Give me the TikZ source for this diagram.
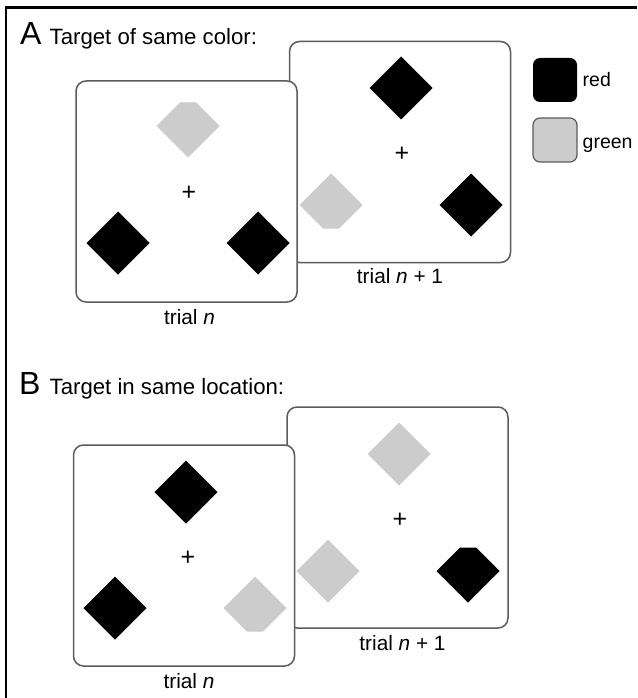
\documentclass[tikz,border=0pt]{standalone}
\usepackage{fontspec}
\setmainfont{Liberation Sans}
\definecolor{tgray}{HTML}{CCCCCC}
\definecolor{bgray}{HTML}{5C5C5C}
\begin{document}
\begin{tikzpicture}[x=1pt,y=-1pt,
  trialbox/.style={draw=bgray, line width=1.5pt, fill=white, rounded corners=10pt,
    minimum width=221pt, minimum height=221pt, inner sep=0pt},
  triallabel/.style={font=\fontsize{20.8}{24}\selectfont, inner sep=0pt, anchor=north},
  fixcross/.style={font=\fontsize{25}{28}\selectfont, inner sep=0pt},
  headletter/.style={font=\fontsize{32}{35}\selectfont, inner sep=0pt, anchor=base west},
  headtext/.style={font=\fontsize{22.2}{26}\selectfont, inner sep=0pt, anchor=base west},
  legsq/.style={minimum width=44pt, minimum height=44pt, inner sep=0pt, rounded corners=7pt},
  legtext/.style={font=\fontsize{19.5}{23}\selectfont, inner sep=0pt, anchor=base west},
  frameline/.style={line width=2.7pt, black},
  dfull/.pic={\fill (0,-31.5) -- (31.5,0) -- (0,31.5) -- (-31.5,0) -- cycle;},
  dcuttop/.pic={\fill (-8,-23.5) -- (8,-23.5) -- (31.5,0) -- (0,31.5) -- (-31.5,0) -- cycle;},
  dcutbot/.pic={\fill (-31.5,0) -- (0,-31.5) -- (31.5,0) -- (8,23.5) -- (-8,23.5) -- cycle;}
]
\useasboundingbox (0,0) rectangle (637,698);
\fill[white] (0,0) rectangle (637,698);

% outer frame (top and left only)
\coordinate (ftl) at (6,7.5);
\coordinate (ftr) at (637,7.5);
\coordinate (fbl) at (6,698);
\draw[frameline] (fbl) -- (ftl) -- (ftr);

% ---------- Panel A ----------
\node[headletter] (hA) at (20,44.5) {A};
\node[headtext] (tA) at (49.5,44.5) {Target of same color:};

% trial n+1 (behind)
\node[trialbox] (A1) at (400,152) {};
\pic[color=black] at (401,88) {dfull};
\pic[color=tgray] at (331,205) {dcutbot};
\pic[color=black] at (471,205) {dfull};
\node[fixcross] (xA1) at (402,154) {+};
\node[triallabel] (lA1) at ([yshift=-5pt]A1.south) {trial \textit{n} + 1};

% trial n (front)
\node[trialbox] (A0) at (186.5,191.5) {};
\pic[color=tgray] at (188,126) {dcuttop};
\pic[color=black] at (118,243) {dfull};
\pic[color=black] at (258,243) {dfull};
\node[fixcross] (xA0) at (189,193) {+};
\node[triallabel] (lA0) at ([xshift=3pt,yshift=-6pt]A0.south) {trial \textit{n}};

% legend
\node[legsq, fill=black] (legR) at (555,80) {};
\node[legtext] (legRt) at (582.5,87) {red};
\node[legsq, fill=tgray, draw=bgray, line width=1.2pt] (legG) at (555,140) {};
\node[legtext] (legGt) at (582.5,148) {green};

% ---------- Panel B ----------
\node[headletter] (hB) at (19,394) {B};
\node[headtext] (tB) at (49.5,394) {Target in same location:};

% trial n+1 (behind)
\node[trialbox] (B1) at (397.5,517.5) {};
\pic[color=tgray] at (399,454) {dfull};
\pic[color=tgray] at (328,571) {dfull};
\pic[color=black] at (468,571) {dcuttop};
\node[fixcross] (xB1) at (400,520) {+};
\node[triallabel] (lB1) at ([xshift=5pt,yshift=-6pt]B1.south) {trial \textit{n} + 1};

% trial n (front)
\node[trialbox] (B0) at (184,555.5) {};
\pic[color=black] at (186,492) {dfull};
\pic[color=black] at (115,608) {dfull};
\pic[color=tgray] at (255,608) {dcutbot};
\node[fixcross] (xB0) at (188,558) {+};
\node[triallabel] (lB0) at ([xshift=5pt,yshift=-6pt]B0.south) {trial \textit{n}};
\end{tikzpicture}
\end{document}
